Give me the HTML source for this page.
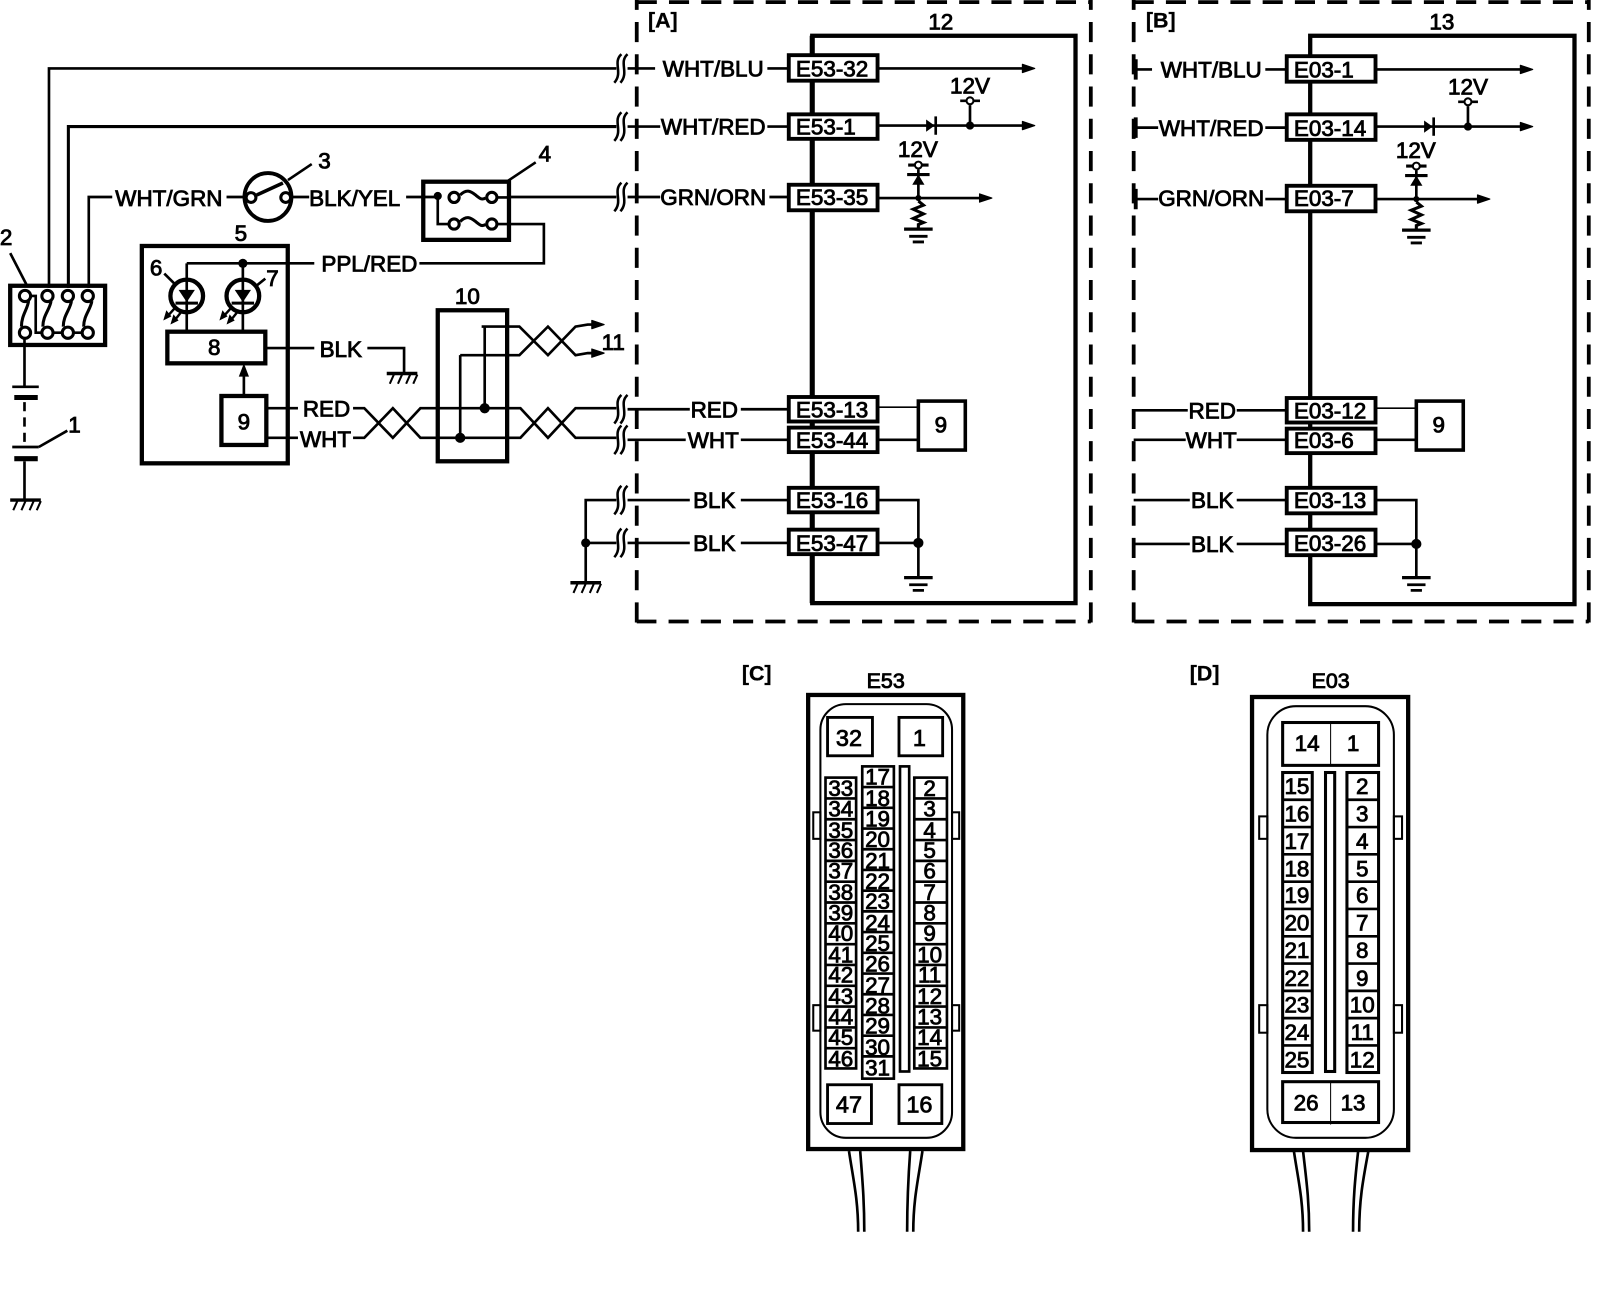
<!DOCTYPE html>
<html><head><meta charset="utf-8"><style>
html,body{margin:0;padding:0;background:#fff;width:1600px;height:1294px;overflow:hidden}
svg{display:block}
text{font-family:"Liberation Sans",sans-serif;font-size:22px;fill:#000;stroke:#000;stroke-width:.85;text-anchor:middle}
.l{text-anchor:start}
.b{font-weight:bold;stroke-width:.3;font-size:21px}
.p{font-size:22px;stroke-width:.8}
.w{fill:none;stroke:#000;stroke-width:2.6}
.t{fill:none;stroke:#000;stroke-width:1.6}
.k{fill:none;stroke:#000;stroke-width:4.2}
.c{fill:#fff;stroke:#000;stroke-width:2.6}
.d{fill:none;stroke:#000;stroke-width:3.7;stroke-dasharray:19.7 11.9}
</style></head><body>
<svg width="1600" height="1294" viewBox="0 0 1568 1268" xmlns="http://www.w3.org/2000/svg">
<defs>
<g id="brk"><path d="M5 -14C-4 -6 7 4 -2 14M11 -14C2 -6 13 4 4 14" fill="none" stroke="#000" stroke-width="2.5"/></g>
<g id="gh" fill="none" stroke="#000"><path d="M-15 0H15" stroke-width="3.400"/><path d="M-8 1L-12 10M0 1L-4 10M8 1L4 10M15 1L11 10" stroke-width="2"/></g>
<g id="gnd" fill="none" stroke="#000"><path d="M-14 0H14" stroke-width="3.200"/><path d="M-9 7H9M-5.500 12.500H5.500" stroke-width="2.800"/></g>
<path id="arr" d="M0 0L-12 -4V4Z" fill="#000" stroke="#000" stroke-width="1.200" stroke-linejoin="round"/>
<g id="led">
<circle r="16" fill="none" stroke="#000" stroke-width="4.200"/>
<path d="M-8 -6H8L0 6Z" fill="#000"/>
<path d="M-11 7H11" stroke="#000" stroke-width="3"/>
<path d="M-10 10L-19 20M-4 14L-12 24" stroke="#000" stroke-width="2.400"/>
<path d="M-23 24L-20 14L-15 20ZM-16 28L-13 18L-8 24Z" fill="#000"/>
</g>
<path id="fuse" d="M6 -2C12 -8 16 -6 21 -2S27 3 31 1" fill="none" stroke="#000" stroke-width="3"/>
</defs>

<!-- Left side wires -->
<path class="w" d="M48 282V67H604"/>
<path class="w" style="stroke-width:3" d="M67 282V124H604"/>
<path class="w" d="M87 282V193H110M222 193H240M287 193H303M398 193H430M498 193H604"/>
<use href="#brk" x="604" y="67"/><use href="#brk" x="604" y="124"/><use href="#brk" x="604" y="193"/>
<use href="#brk" x="604" y="401"/><use href="#brk" x="604" y="431"/><use href="#brk" x="604" y="490"/><use href="#brk" x="604" y="532"/>
<path class="w" d="M615 67H642M615 124H647M615 193H647"/>
<text class="l" x="113" y="202">WHT/GRN</text>
<text class="l" x="303" y="202">BLK/YEL</text>
<!-- switch 3 -->
<ellipse cx="262.600" cy="193" rx="23" ry="23.500" fill="none" stroke="#000" stroke-width="3.800"/>
<circle class="c" style="stroke-width:3" cx="246" cy="193.500" r="4.800"/><circle class="c" style="stroke-width:3" cx="280" cy="193.500" r="4.800"/>
<path class="w" d="M251.600 191L277.300 179.300" style="stroke-width:3.500"/>
<path class="w" d="M282.200 176.400L305.500 160.700"/>
<text x="318" y="165">3</text>
<!-- fuse box 4 -->
<rect class="k" x="414.800" y="178" width="84" height="57"/>
<circle cx="429" cy="192" r="4"/>
<path class="w" d="M429 192V219.500H440"/>
<circle class="c" style="stroke-width:3" cx="445" cy="193.400" r="5"/><circle class="c" style="stroke-width:3" cx="482" cy="193.400" r="5"/>
<circle class="c" style="stroke-width:3" cx="445" cy="219.500" r="5"/><circle class="c" style="stroke-width:3" cx="482" cy="219.500" r="5"/>
<use href="#fuse" x="445" y="193"/><use href="#fuse" x="445" y="219"/>
<path class="w" d="M487 219.500H533V258H411M487 193.400H498"/>
<path class="w" d="M498 177L525 159"/>
<text x="534" y="158">4</text>
<text x="362" y="266">PPL/RED</text>
<path class="w" d="M183 258H308M183 258V325M238 258V325"/>
<circle cx="238" cy="258" r="4.500"/>
<!-- box 5 -->
<rect class="k" x="139" y="241" width="143" height="213"/>
<text x="236" y="236">5</text>
<text x="153" y="270">6</text>
<text x="267" y="280">7</text>
<path class="w" d="M161 268L171 278M260 273L250 281"/>
<use href="#led" x="183" y="290"/><use href="#led" x="238" y="290"/>
<rect class="c" style="stroke-width:4.200" x="164" y="325" width="96" height="31"/>
<text x="210" y="348">8</text>
<path class="w" d="M260 341H308M360 341H396V366"/>
<text x="334" y="350">BLK</text>
<use href="#gh" x="394" y="366"/>
<path class="w" d="M239 388V362"/><path d="M239 356L234 369H244Z"/>
<rect class="k" x="217" y="388" width="44" height="48"/>
<text x="239" y="421">9</text>
<path class="w" d="M261 400H292M261 429H292"/>
<text x="320" y="408">RED</text>
<text x="319" y="438">WHT</text>
<!-- twists -->
<path class="w" d="M346 400H357L385 429L412 400H510L537 429L564 400H604M346 429H357L385 400L412 429H510L537 400L564 429H604"/>
<rect class="k" x="429" y="304" width="68" height="148"/>
<text x="458" y="298">10</text>
<circle cx="475" cy="400" r="5"/><circle cx="451" cy="429" r="5"/>
<path class="w" d="M475 400V320M451 429V348M472 320H509L537 348L564 320L576 318H582M451 348H509L537 320L564 348L576 346H582"/>
<use href="#arr" x="592" y="318"/><use href="#arr" x="592" y="346"/>
<text x="601" y="343">11</text>
<!-- box 2 -->
<rect class="k" x="10" y="280" width="93" height="58"/>
<path class="w" d="M10 248L26 279"/><text x="6" y="240">2</text>
<circle class="c" style="stroke-width:3" cx="24.500" cy="290" r="5.500"/><circle class="c" style="stroke-width:3" cx="46.500" cy="290" r="5.500"/><circle class="c" style="stroke-width:3" cx="66.500" cy="290" r="5.500"/><circle class="c" style="stroke-width:3" cx="86" cy="290" r="5.500"/>
<circle class="c" style="stroke-width:3" cx="24.500" cy="326" r="5.500"/><circle class="c" style="stroke-width:3" cx="46.500" cy="326" r="5.500"/><circle class="c" style="stroke-width:3" cx="66.500" cy="326" r="5.500"/><circle class="c" style="stroke-width:3" cx="86" cy="326" r="5.500"/>
<path class="w" style="stroke-width:3" d="M28 295C27 303 21 309 21 320M50 295C49 303 42 309 42 320M70 295C69 303 62 309 62 320M90 295C89 303 82 309 82 320"/>
<path class="w" d="M30 290H35V326H42M52 326H61M72 326H81"/>
<!-- battery -->
<path class="w" d="M24 332V379"/>
<path class="w" d="M12 379H38M12 438H38"/>
<path d="M14 387H37V392H14ZM14 447H37V452H14Z"/>
<path class="w" d="M24 394V436" stroke-dasharray="9 6"/>
<path class="w" d="M24 452V489"/>
<use href="#gh" x="25" y="490"/>
<path class="w" d="M38 438L66 422"/><text x="73" y="424">1</text>
<!-- BLK wires -->
<path class="w" d="M604 490H574V570M604 532H574"/><circle cx="574" cy="532" r="4.500"/>
<use href="#gh" x="574" y="571"/>

<!-- Panel A -->
<path class="d" d="M624 610V0"/><path class="d" d="M624 2H1069"/><path class="d" d="M1069 610V0"/><path class="d" d="M1069 609H624" style="stroke-dashoffset:16.700"/>
<text class="b l" x="635" y="27">[A]</text>
<text x="922" y="29">12</text>
<rect class="k" x="796" y="35" width="258" height="556"/>
<path d="M796 35V591" stroke="#000" stroke-width="5"/>
<path class="w" d="M752 67H773M752 124H773M754 193H773M615 401H676M726 401H773M615 431H672M726 431H773M615 490H676M726 490H773M615 532H676M726 532H773"/>
<text x="699" y="75">WHT/BLU</text>
<text x="699" y="132">WHT/RED</text>
<text x="699" y="201">GRN/ORN</text>
<text x="700" y="409">RED</text>
<text x="699" y="439">WHT</text>
<text x="700" y="498">BLK</text>
<text x="700" y="540">BLK</text>
<rect class="c" style="stroke-width:3.800" x="773" y="54" width="87" height="25"/>
<rect class="c" style="stroke-width:3.800" x="773" y="112" width="87" height="24"/>
<rect class="c" style="stroke-width:3.800" x="773" y="181" width="87" height="25"/>
<rect class="c" style="stroke-width:3.800" x="773" y="389" width="87" height="24"/>
<rect class="c" style="stroke-width:3.800" x="773" y="419" width="87" height="24"/>
<rect class="c" style="stroke-width:3.800" x="773" y="478" width="87" height="24"/>
<rect class="c" style="stroke-width:3.800" x="773" y="519" width="87" height="24"/>
<text class="l" x="780" y="75">E53-32</text>
<text class="l" x="780" y="132">E53-1</text>
<text class="l" x="780" y="201">E53-35</text>
<text class="l" x="780" y="409">E53-13</text>
<text class="l" x="780" y="439">E53-44</text>
<text class="l" x="780" y="498">E53-16</text>
<text class="l" x="780" y="540">E53-47</text>
<path class="w" d="M860 67H1004M860 123H1004M860 194H962"/>
<use href="#arr" x="1014" y="67"/><use href="#arr" x="1014" y="123"/><use href="#arr" x="972" y="194"/>
<path d="M907.600 117L916 123L907.600 129Z"/><path class="w" d="M917 114V132"/>
<circle cx="950.600" cy="123" r="4"/><path class="w" d="M950.600 123V103M941 98.700H960.400"/><circle class="c" style="stroke-width:2" cx="950.600" cy="98.700" r="3.400"/>
<text x="950.600" y="91.500">12V</text>
<text x="899.500" y="154">12V</text>
<path class="w" d="M890 161.700H910M889 171H911" style="stroke-width:3"/><circle class="c" style="stroke-width:2" cx="900" cy="161.700" r="3.400"/>
<path class="w" d="M900 166V194"/>
<path d="M900 171L894 181H906Z"/>
<circle cx="900" cy="194" r="3"/>
<path class="w" style="stroke-width:3" d="M900 197L905 201L895 205L905 209.500L895 214L905 218L900 220V224"/>
<use href="#gnd" x="900" y="224.500"/>
<rect class="c" style="stroke-width:3.500" x="900" y="393" width="46" height="48"/>
<text x="922" y="424">9</text>
<path class="t" d="M860 399H900"/><path class="w" d="M860 431H900"/>
<path class="w" d="M860 490H900V565M860 532H900"/><circle cx="900" cy="532" r="5"/>
<use href="#gnd" x="900" y="566"/>

<!-- Panel B -->
<path class="d" d="M1111 610V0"/><path class="d" d="M1111 2H1557"/><path class="d" d="M1557 610V0"/><path class="d" d="M1557 609H1111" style="stroke-dashoffset:16.700"/>
<text class="b l" x="1123" y="27">[B]</text>
<text x="1413" y="29">13</text>
<rect class="k" x="1284" y="35" width="259" height="557"/>
<path class="w" d="M1113 68H1129M1240 68H1261M1113 125H1135M1240 125H1261M1113 195H1135M1240 195H1261M1111 402H1164M1212 402H1261M1111 431H1162M1212 431H1261M1111 490H1166M1212 490H1261M1111 533H1166M1212 533H1261"/>
<path class="w" style="stroke-width:3.800" d="M1113 58V78M1113 115V135M1113 185V205"/>
<text x="1187" y="76">WHT/BLU</text>
<text x="1187" y="133">WHT/RED</text>
<text x="1187" y="202">GRN/ORN</text>
<text x="1188" y="410">RED</text>
<text x="1187" y="439">WHT</text>
<text x="1188" y="498">BLK</text>
<text x="1188" y="541">BLK</text>
<rect class="c" style="stroke-width:3.800" x="1261" y="55" width="87" height="25"/>
<rect class="c" style="stroke-width:3.800" x="1261" y="112" width="87" height="25"/>
<rect class="c" style="stroke-width:3.800" x="1261" y="182" width="87" height="25"/>
<rect class="c" style="stroke-width:3.800" x="1261" y="390" width="87" height="24"/>
<rect class="c" style="stroke-width:3.800" x="1261" y="420" width="87" height="24"/>
<rect class="c" style="stroke-width:3.800" x="1261" y="478" width="87" height="25"/>
<rect class="c" style="stroke-width:3.800" x="1261" y="519" width="87" height="25"/>
<text class="l" x="1268" y="76">E03-1</text>
<text class="l" x="1268" y="133">E03-14</text>
<text class="l" x="1268" y="202">E03-7</text>
<text class="l" x="1268" y="410">E03-12</text>
<text class="l" x="1268" y="439">E03-6</text>
<text class="l" x="1268" y="498">E03-13</text>
<text class="l" x="1268" y="540">E03-26</text>
<path class="w" d="M1348 68H1492M1348 124H1492M1348 195H1450"/>
<use href="#arr" x="1502" y="68"/><use href="#arr" x="1502" y="124"/><use href="#arr" x="1460" y="195"/>
<path d="M1395.600 118L1404 124L1395.600 130Z"/><path class="w" d="M1405 115V133"/>
<circle cx="1438.600" cy="124" r="4"/><path class="w" d="M1438.600 124V104M1429 99.700H1448.400"/><circle class="c" style="stroke-width:2" cx="1438.600" cy="99.700" r="3.400"/>
<text x="1438.600" y="92.500">12V</text>
<text x="1387.500" y="155">12V</text>
<path class="w" d="M1378 162.700H1398M1377 172H1399" style="stroke-width:3"/><circle class="c" style="stroke-width:2" cx="1388" cy="162.700" r="3.400"/>
<path class="w" d="M1388 167V195"/>
<path d="M1388 172L1382 182H1394Z"/>
<circle cx="1388" cy="195" r="3"/>
<path class="w" style="stroke-width:3" d="M1388 198L1393 202L1383 206L1393 210.500L1383 215L1393 219L1388 221V225"/>
<use href="#gnd" x="1388" y="225.500"/>
<rect class="c" style="stroke-width:3.500" x="1388" y="393" width="46" height="48"/>
<text x="1410" y="424">9</text>
<path class="t" d="M1348 400H1388"/><path class="w" d="M1348 431H1388"/>
<path class="w" d="M1348 490H1388V565M1348 533H1388"/><circle cx="1388" cy="533" r="5"/>
<use href="#gnd" x="1388" y="566"/>

<!-- Connector C -->
<text class="b l" x="727" y="667">[C]</text>
<text x="868" y="674" style="font-size:21px">E53</text>
<rect class="k" x="792" y="681" width="152" height="445"/>
<rect x="804" y="690" width="129" height="425" rx="25" fill="none" stroke="#000" stroke-width="2"/>
<rect x="797" y="796" width="7" height="26" fill="none" stroke="#000" stroke-width="2"/><rect x="797" y="985" width="7" height="25" fill="none" stroke="#000" stroke-width="2"/>
<rect x="933" y="796" width="7" height="26" fill="none" stroke="#000" stroke-width="2"/><rect x="933" y="985" width="7" height="25" fill="none" stroke="#000" stroke-width="2"/>
<rect class="c" style="stroke-width:2.800" x="811" y="703" width="44" height="37.600"/><text class="p" style="font-size:23px" x="832" y="731">32</text>
<rect class="c" style="stroke-width:2.800" x="881" y="703" width="42.800" height="37.600"/><text class="p" style="font-size:23px" x="901" y="731">1</text>
<rect class="c" style="stroke-width:2.800" x="811" y="1063" width="43" height="38"/><text class="p" style="font-size:23px" x="832" y="1090">47</text>
<rect class="c" style="stroke-width:2.800" x="881" y="1063" width="42" height="38"/><text class="p" style="font-size:23px" x="901" y="1090">16</text>
<rect class="c" x="882" y="751" width="9" height="299"/>
<rect class="c" x="809" y="762" width="30" height="285"/>
<path class="w" d="M809 782.400H839M809 802.800H839M809 823.200H839M809 843.600H839M809 864H839M809 884.400H839M809 904.800H839M809 925.200H839M809 945.600H839M809 966H839M809 986.400H839M809 1006.800H839M809 1027.200H839"/>
<rect class="c" x="845" y="751" width="31" height="306"/>
<path class="w" d="M845 771.300H876M845 791.600H876M845 811.900H876M845 832.200H876M845 852.500H876M845 872.800H876M845 893.100H876M845 913.400H876M845 933.700H876M845 954H876M845 974.300H876M845 994.600H876M845 1014.900H876M845 1035.200H876"/>
<rect class="c" x="896" y="762" width="32" height="285"/>
<path class="w" d="M896 782.400H928M896 802.800H928M896 823.200H928M896 843.600H928M896 864H928M896 884.400H928M896 904.800H928M896 925.200H928M896 945.600H928M896 966H928M896 986.400H928M896 1006.800H928M896 1027.200H928"/>
<text class="p" x="824" y="780">33</text><text class="p" x="824" y="800">34</text><text class="p" x="824" y="821">35</text><text class="p" x="824" y="841">36</text><text class="p" x="824" y="861">37</text><text class="p" x="824" y="882">38</text><text class="p" x="824" y="902">39</text><text class="p" x="824" y="922">40</text><text class="p" x="824" y="943">41</text><text class="p" x="824" y="963">42</text><text class="p" x="824" y="984">43</text><text class="p" x="824" y="1004">44</text><text class="p" x="824" y="1024">45</text><text class="p" x="824" y="1045">46</text>
<text class="p" x="860" y="769">17</text><text class="p" x="860" y="790">18</text><text class="p" x="860" y="810">19</text><text class="p" x="860" y="830">20</text><text class="p" x="860" y="851">21</text><text class="p" x="860" y="871">22</text><text class="p" x="860" y="891">23</text><text class="p" x="860" y="912">24</text><text class="p" x="860" y="932">25</text><text class="p" x="860" y="952">26</text><text class="p" x="860" y="973">27</text><text class="p" x="860" y="993">28</text><text class="p" x="860" y="1013">29</text><text class="p" x="860" y="1034">30</text><text class="p" x="860" y="1054">31</text>
<text class="p" x="911" y="780">2</text><text class="p" x="911" y="800">3</text><text class="p" x="911" y="821">4</text><text class="p" x="911" y="841">5</text><text class="p" x="911" y="861">6</text><text class="p" x="911" y="882">7</text><text class="p" x="911" y="902">8</text><text class="p" x="911" y="922">9</text><text class="p" x="911" y="943">10</text><text class="p" x="911" y="963">11</text><text class="p" x="911" y="984">12</text><text class="p" x="911" y="1004">13</text><text class="p" x="911" y="1024">14</text><text class="p" x="911" y="1045">15</text>
<path class="w" d="M832 1128C836 1155 841 1175 841 1207M843 1128C845 1155 847 1175 847 1207M904 1128C900 1155 895 1175 895 1207M892 1128C890 1155 889 1175 889 1207"/>

<!-- Connector D -->
<text class="b l" x="1166" y="667">[D]</text>
<text x="1304" y="674" style="font-size:21px">E03</text>
<rect class="k" x="1227" y="683" width="153" height="444"/>
<rect x="1242" y="692" width="124" height="423" rx="28" fill="none" stroke="#000" stroke-width="2"/>
<rect x="1234" y="800" width="8" height="22" fill="none" stroke="#000" stroke-width="2"/><rect x="1234" y="985" width="8" height="27" fill="none" stroke="#000" stroke-width="2"/>
<rect x="1366" y="800" width="8" height="22" fill="none" stroke="#000" stroke-width="2"/><rect x="1366" y="985" width="8" height="27" fill="none" stroke="#000" stroke-width="2"/>
<rect class="c" style="stroke-width:3" x="1257" y="708" width="94" height="42"/><path d="M1304 708V750" stroke="#000"/>
<text class="p" x="1281" y="736">14</text><text class="p" x="1326" y="736">1</text>
<rect class="c" style="stroke-width:3" x="1257" y="1060" width="94" height="40"/><path d="M1304 1060V1102" stroke="#000"/>
<text class="p" x="1280" y="1088">26</text><text class="p" x="1326" y="1088">13</text>
<rect class="c" style="stroke-width:3" x="1299" y="757" width="9" height="293"/>
<rect class="c" style="stroke-width:3" x="1257" y="757" width="29" height="294"/>
<path class="w" d="M1257 783.700H1286M1257 810.500H1286M1257 837.200H1286M1257 864H1286M1257 890.700H1286M1257 917.500H1286M1257 944.200H1286M1257 971H1286M1257 997.700H1286M1257 1024.500H1286"/>
<rect class="c" style="stroke-width:3" x="1320" y="757" width="31" height="294"/>
<path class="w" d="M1320 783.700H1351M1320 810.500H1351M1320 837.200H1351M1320 864H1351M1320 890.700H1351M1320 917.500H1351M1320 944.200H1351M1320 971H1351M1320 997.700H1351M1320 1024.500H1351"/>
<text class="p" x="1271" y="778">15</text><text class="p" x="1271" y="805">16</text><text class="p" x="1271" y="832">17</text><text class="p" x="1271" y="859">18</text><text class="p" x="1271" y="885">19</text><text class="p" x="1271" y="912">20</text><text class="p" x="1271" y="939">21</text><text class="p" x="1271" y="966">22</text><text class="p" x="1271" y="992">23</text><text class="p" x="1271" y="1019">24</text><text class="p" x="1271" y="1046">25</text>
<text class="p" x="1335" y="778">2</text><text class="p" x="1335" y="805">3</text><text class="p" x="1335" y="832">4</text><text class="p" x="1335" y="859">5</text><text class="p" x="1335" y="885">6</text><text class="p" x="1335" y="912">7</text><text class="p" x="1335" y="939">8</text><text class="p" x="1335" y="966">9</text><text class="p" x="1335" y="992">10</text><text class="p" x="1335" y="1019">11</text><text class="p" x="1335" y="1046">12</text>
<path class="w" d="M1268 1128C1272 1155 1277 1175 1277 1207M1277 1128C1280 1155 1283 1175 1283 1207M1341 1128C1336 1155 1332 1175 1332 1207M1331 1128C1328 1155 1326 1175 1326 1207"/>
</svg>
</body></html>
